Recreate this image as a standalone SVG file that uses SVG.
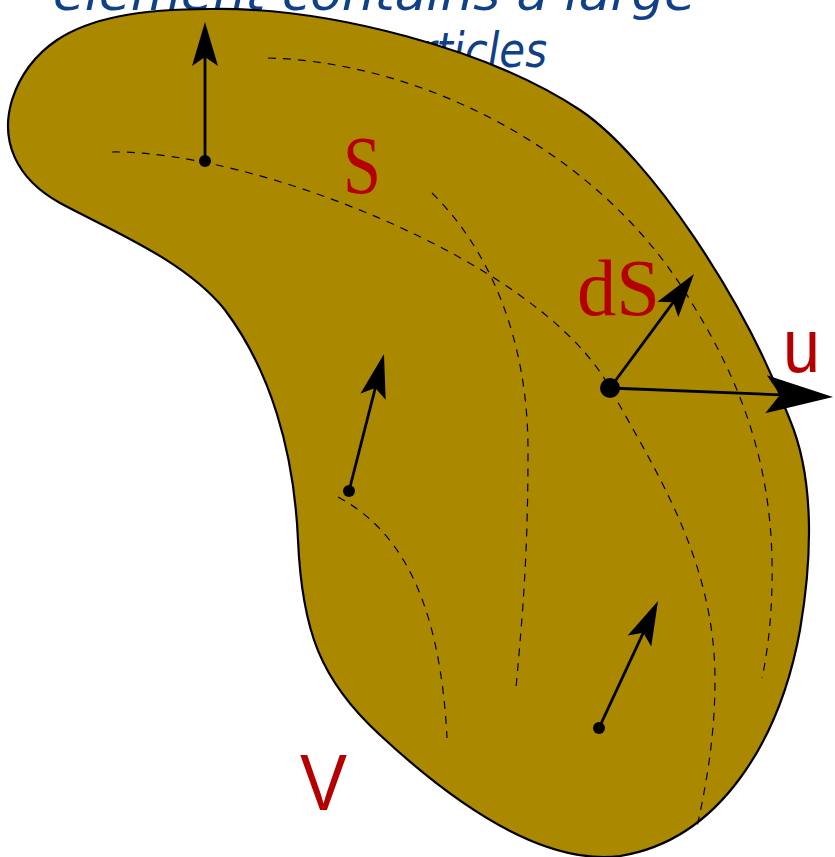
<svg xmlns="http://www.w3.org/2000/svg" width="835" height="857" viewBox="0 0 835 857">
<style>
.cap{font-family:"DejaVu Sans","Liberation Sans",sans-serif;font-style:italic;font-size:48px;fill:#104088}
.blob{fill:#aa8800;stroke:#000;stroke-width:2.2}
.dash{fill:none;stroke:#000;stroke-width:1.2;stroke-dasharray:8 7}
.vec{fill:none;stroke:#000;stroke-width:2.8}
.lbl{fill:#b40000}
.serif{font-family:"Liberation Serif","Times New Roman",serif}
.sans{font-family:"Liberation Sans",Arial,sans-serif}
</style>
<defs>
<marker id="ah" markerUnits="userSpaceOnUse" orient="auto" overflow="visible" markerWidth="1" markerHeight="1" refX="0" refY="0">
<path d="M10,0 L-34,-13 L-25,0 L-34,13 Z" fill="#000"/>
</marker>
<marker id="ahBig" markerUnits="userSpaceOnUse" orient="auto" overflow="visible" markerWidth="1" markerHeight="1" refX="0" refY="0">
<path d="M15,0 L-52,-19 L-38,0 L-52,19 Z" fill="#000"/>
</marker>
</defs>
<g id="caption">
<text class="cap" x="53" y="10" textLength="643" lengthAdjust="spacingAndGlyphs">element contains a large</text>
<text class="cap" x="367" y="67" textLength="180" lengthAdjust="spacingAndGlyphs">particles</text>
</g>
<g id="volume">
<path class="blob" d="M57,40 C90,18 140,9 210,9 C330,7 490,50 580,110 C650,157 745,300 790,420 C815,480 812,560 800,630 C780,740 720,840 620,856 C540,866 450,800 380,735 C320,680 302,630 298,540 C294,450 270,370 225,310 C185,260 110,230 60,203 C15,178 0,140 12,100 C20,75 35,55 57,40 Z"/>
</g>
<g id="streamlines">
<path class="dash" d="M112,152 C250,150 540,260 610,388 C655,470 715,560 715,680 C715,740 705,790 697,827"/>
<path class="dash" d="M268,58 C420,62 600,150 690,300 C740,380 770,460 772,560 C773,610 768,650 762,678"/>
<path class="dash" d="M432,193 C490,250 528,340 528,450 C528,560 522,620 516,688"/>
<path class="dash" d="M338,497 C400,530 440,600 447,738"/>
</g>
<g id="connectors">
<line class="vec" x1="205" y1="161" x2="205" y2="32" marker-end="url(#ah)"/>
<line class="vec" x1="349" y1="491" x2="381.5" y2="363.7" marker-end="url(#ah)"/>
<line class="vec" x1="599" y1="728" x2="653.8" y2="610.1" marker-end="url(#ah)"/>
<line class="vec" x1="610" y1="388" x2="688.1" y2="282.1" marker-end="url(#ah)"/>
<line class="vec" x1="610" y1="388" x2="818" y2="396.4" marker-end="url(#ahBig)"/>
</g>
<g id="points">
<circle cx="205" cy="161" r="6"/>
<circle cx="349" cy="491" r="6"/>
<circle cx="599" cy="728" r="6"/>
<circle cx="610" cy="388" r="10"/>
</g>
<g id="labels">
<text class="lbl serif" x="343" y="193" font-size="82" textLength="38" lengthAdjust="spacingAndGlyphs">S</text>
<text class="lbl serif" x="577" y="315" font-size="80" textLength="83" lengthAdjust="spacingAndGlyphs">dS</text>
<text class="lbl sans" x="783" y="372" font-size="76" textLength="37" lengthAdjust="spacingAndGlyphs">u</text>
<text class="lbl sans" x="300" y="810" font-size="80" textLength="47" lengthAdjust="spacingAndGlyphs">V</text>
</g>
</svg>
